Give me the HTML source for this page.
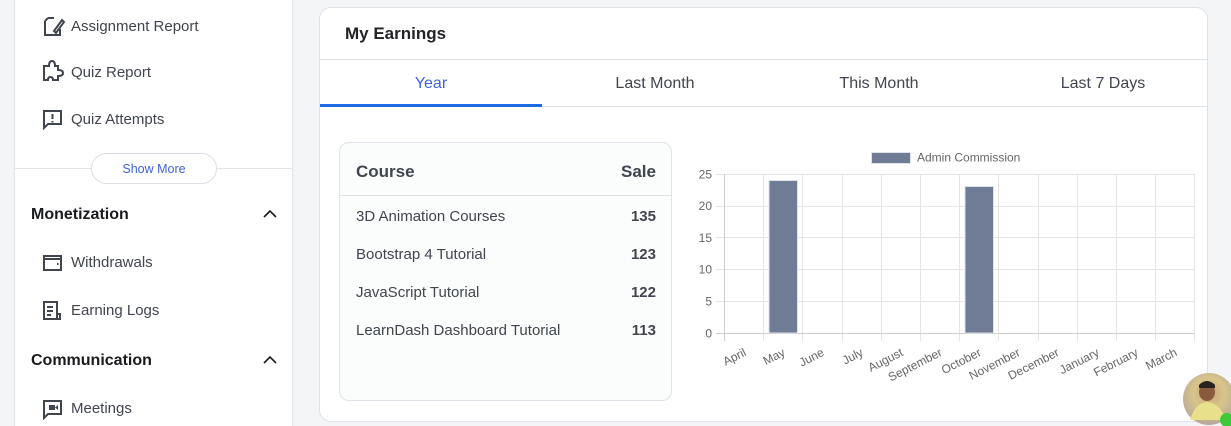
<!DOCTYPE html>
<html><head><meta charset="utf-8">
<style>
*{margin:0;padding:0;box-sizing:border-box}
html,body{width:1231px;height:426px;overflow:hidden;background:#f4f5f6;font-family:"Liberation Sans",Arial,sans-serif;color:#41454f;position:relative}
.abs{position:absolute;white-space:nowrap}
.side{position:absolute;left:14px;top:0;width:279px;height:426px;background:#fff;border-left:1px solid #e3e5eb;border-right:1px solid #e3e5eb}
.item{position:absolute;left:71px;font-size:15px;line-height:18px;color:#41454f}
.sec{position:absolute;left:31px;font-size:16px;font-weight:bold;color:#1a1b1e;line-height:18px}
.card{position:absolute;left:319px;top:7px;width:889px;height:415px;background:#fff;border:1px solid #e0e2ea;border-radius:12px}
.tab{position:absolute;top:75px;font-size:16px;line-height:18px;color:#41454f;text-align:center;width:222px}
.tbl{position:absolute;left:339px;top:142px;width:333px;height:259px;background:#fbfcfc;border:1px solid #e0e2ea;border-radius:10px}
.row{position:absolute;left:356px;width:300px;font-size:15px;line-height:18px;color:#41454f}
.row b{position:absolute;right:0;top:0;color:#41454f}
</style></head><body>
<div class="side"></div>
<svg class="abs" style="left:0;top:0" width="300" height="426" viewBox="0 0 300 426">
 <g fill="none" stroke="#41454f" stroke-width="2">
  <path d="M48 18 L54 18 M45 21 L45 35 L60 35 L60 29 M48 18 L45 21"/>
  <path d="M54 31 L62 20 L64 22 L56 33 Z"/>
  <path d="M44 66 L49 66 Q49 61 52 61 Q55 61 55 66 L58 66 L58 70 Q63 70 63 73 Q63 76 58 76 L58 80 L53 80 Q53 77 50.5 77 Q48 77 48 80 L44 80 Z"/>
  <path d="M44 111 L61 111 L61 124 L48 124 L44 128 Z"/>
  <path d="M52.5 114 L52.5 119 M52.5 121 L52.5 122.5"/>
  <path d="M44 256 L61 256 L61 270 L44 270 Z M44 259 L61 259"/>
  <path d="M57 264 L58.5 264"/>
  <path d="M44 302 L57 302 L57 319 L44 319 Z M47 307 L53 307 M47 311 L53 311 M47 315 L51 315 M57 314 L60 314 L60 319 L57 319"/>
  <path d="M44 401 L61 401 L61 414 L48 414 L44 418 Z"/>
 </g>
 <rect x="49" y="405" width="6" height="5" fill="#41454f"/>
 <path d="M55 407.5 L58 405 L58 410 Z" fill="#41454f"/>
 <path d="M264 217 L270 211 L276 217" fill="none" stroke="#1a1b1e" stroke-width="1.6"/>
 <path d="M264 363 L270 357 L276 363" fill="none" stroke="#1a1b1e" stroke-width="1.6"/>
 <line x1="15" y1="168.5" x2="292" y2="168.5" stroke="#e3e5eb" stroke-width="1"/>
 <rect x="91.5" y="153.5" width="125" height="30" rx="15" fill="#fff" stroke="#dcdfe6"/>
 <text x="154" y="173" font-size="12.5" fill="#3e64de" text-anchor="middle" font-family="Liberation Sans, Arial, sans-serif">Show More</text>
</svg>
<div class="item" style="top:18px">Assignment Report</div>
<div class="item" style="top:64px">Quiz Report</div>
<div class="item" style="top:111px">Quiz Attempts</div>
<div class="sec" style="top:206px">Monetization</div>
<div class="item" style="top:254px">Withdrawals</div>
<div class="item" style="top:302px">Earning Logs</div>
<div class="sec" style="top:352px">Communication</div>
<div class="item" style="top:400px">Meetings</div>

<div class="card"></div>
<div class="abs" style="left:345px;top:24px;font-size:17px;font-weight:bold;color:#212327;line-height:20px">My Earnings</div>
<div class="abs" style="left:320px;top:59px;width:887px;height:1px;background:#e0e2ea"></div>
<div class="abs" style="left:320px;top:106px;width:887px;height:1px;background:#e0e2ea"></div>
<div class="abs" style="left:320px;top:104px;width:222px;height:3px;background:#1d6ae5"></div>
<div class="tab" style="left:320px;color:#3e64de">Year</div>
<div class="tab" style="left:544px">Last Month</div>
<div class="tab" style="left:768px">This Month</div>
<div class="tab" style="left:992px">Last 7 Days</div>

<div class="tbl"></div>
<div class="abs" style="left:340px;top:195px;width:331px;height:1px;background:#e0e2ea"></div>
<div class="row" style="top:162px;font-size:17px;font-weight:bold;line-height:20px">Course<b>Sale</b></div>
<div class="row" style="top:208px">3D Animation Courses<b>135</b></div>
<div class="row" style="top:246px">Bootstrap 4 Tutorial<b>123</b></div>
<div class="row" style="top:284px">JavaScript Tutorial<b>122</b></div>
<div class="row" style="top:322px">LearnDash Dashboard Tutorial<b>113</b></div>

<svg class="abs" style="left:0;top:0" width="1231" height="426" viewBox="0 0 1231 426" font-family="Liberation Sans, Arial, sans-serif">
 <rect x="871.5" y="152.5" width="39" height="11" fill="#707b96" stroke="#dfe2e8"/>
 <text x="917" y="161.5" font-size="12" fill="#666">Admin Commission</text>
 <g stroke="#e5e5e5" stroke-width="1">
  <line x1="716" y1="174.5" x2="1195" y2="174.5"/>
  <line x1="716" y1="206.5" x2="1195" y2="206.5"/>
  <line x1="716" y1="237.5" x2="1195" y2="237.5"/>
  <line x1="716" y1="269.5" x2="1195" y2="269.5"/>
  <line x1="716" y1="301.5" x2="1195" y2="301.5"/>
 </g>
 <g stroke="#e5e5e5" stroke-width="1">
  <line x1="763.5" y1="174" x2="763.5" y2="341"/>
  <line x1="802.5" y1="174" x2="802.5" y2="341"/>
  <line x1="842.5" y1="174" x2="842.5" y2="341"/>
  <line x1="881.5" y1="174" x2="881.5" y2="341"/>
  <line x1="920.5" y1="174" x2="920.5" y2="341"/>
  <line x1="959.5" y1="174" x2="959.5" y2="341"/>
  <line x1="998.5" y1="174" x2="998.5" y2="341"/>
  <line x1="1038.5" y1="174" x2="1038.5" y2="341"/>
  <line x1="1077.5" y1="174" x2="1077.5" y2="341"/>
  <line x1="1116.5" y1="174" x2="1116.5" y2="341"/>
  <line x1="1155.5" y1="174" x2="1155.5" y2="341"/>
  <line x1="1194.5" y1="174" x2="1194.5" y2="341"/>
 </g>
 <line x1="724.5" y1="174" x2="724.5" y2="341" stroke="#cfcfcf"/>
 <line x1="716" y1="333.5" x2="1195" y2="333.5" stroke="#cfcfcf"/>
 <rect x="769" y="180.5" width="28.5" height="152.5" fill="#707b96" stroke="#dfe2e8" stroke-width="1"/>
 <rect x="965" y="186.5" width="28.5" height="146.5" fill="#707b96" stroke="#dfe2e8" stroke-width="1"/>
 <g font-size="12" fill="#666" text-anchor="end">
  <text x="712" y="178.5">25</text>
  <text x="712" y="210">20</text>
  <text x="712" y="242">15</text>
  <text x="712" y="273.5">10</text>
  <text x="712" y="305.5">5</text>
  <text x="712" y="337.5">0</text>
 </g>
 <g font-size="12" fill="#666" text-anchor="end">
  <text transform="translate(747,355) rotate(-27)">April</text>
  <text transform="translate(786,355) rotate(-27)">May</text>
  <text transform="translate(825,355) rotate(-27)">June</text>
  <text transform="translate(864,355) rotate(-27)">July</text>
  <text transform="translate(904,355) rotate(-27)">August</text>
  <text transform="translate(943,355) rotate(-27)">September</text>
  <text transform="translate(982,355) rotate(-27)">October</text>
  <text transform="translate(1021,355) rotate(-27)">November</text>
  <text transform="translate(1060,355) rotate(-27)">December</text>
  <text transform="translate(1100,355) rotate(-27)">January</text>
  <text transform="translate(1139,355) rotate(-27)">February</text>
  <text transform="translate(1178,355) rotate(-27)">March</text>
 </g>
 <defs>
  <radialGradient id="av" cx="0.5" cy="0.4" r="0.6">
   <stop offset="0" stop-color="#c9a27a"/>
   <stop offset="0.5" stop-color="#d8c58a"/>
   <stop offset="1" stop-color="#b7a89a"/>
  </radialGradient>
  <clipPath id="cl"><rect x="0" y="0" width="1231" height="426"/></clipPath>
 </defs>
 <g clip-path="url(#cl)">
 <circle cx="1209" cy="399" r="26" fill="url(#av)"/>
 <ellipse cx="1207" cy="392" rx="8" ry="9" fill="#8a5a3c"/>
 <path d="M1199 385 Q1207 377 1215 385 L1215 388 L1199 388 Z" fill="#2a2220"/>
 <path d="M1190 420 Q1195 403 1207 402 Q1220 403 1226 420 Z" fill="#e8e08a"/>
 <circle cx="1227" cy="420" r="7" fill="#3ec93a"/>
 </g>
</svg>
</body></html>
